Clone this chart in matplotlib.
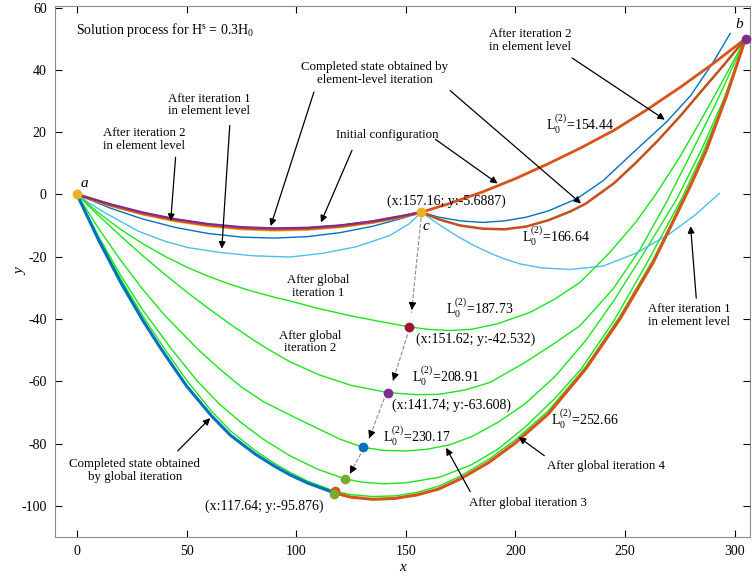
import numpy as np
import matplotlib
matplotlib.use('Agg')
import matplotlib.pyplot as plt

plt.rcParams['font.family'] = ['Liberation Serif', 'DejaVu Serif']
plt.rcParams['mathtext.fontset'] = 'custom'
plt.rcParams['mathtext.rm'] = 'Liberation Serif'
plt.rcParams['mathtext.it'] = 'Liberation Serif:italic'
plt.rcParams['axes.unicode_minus'] = False

# ---- element-level iteration, segment a-c ----
left_x = [0, 15, 30, 45, 60, 75, 90, 105, 120, 135, 150, 157.16]
init_left_y = [0, -3.34, -6.09, -8.25, -9.82, -10.80, -11.19, -10.98, -10.19, -8.81, -6.84, -5.69]
iter3_left_y = [0, -3.5, -6.3, -8.5, -10.05, -11.05, -11.45, -11.2, -10.4, -9.0, -6.95, -5.69]
elem_done_left_y = [0, -3.1, -5.8, -7.95, -9.5, -10.5, -10.9, -10.7, -9.95, -8.6, -6.7, -5.69]
iter2_left_y = [0, -4.34, -7.89, -10.62, -12.56, -13.70, -14.03, -13.56, -12.28, -10.22, -7.34, -5.69]
iter1_left_x = [0, 5, 12.8, 28, 40, 50.8, 66, 80, 97.1, 112.3, 127.5, 142.7, 151.8, 157.16]
iter1_left_y = [0, -2.5, -5.9, -11.8, -15.0, -17.1, -18.7, -19.7, -20.1, -18.9, -16.8, -13.2, -9.3, -5.69]

# ---- element-level iteration, segment c-b ----
init_right_x = [157.16, 170, 185, 200, 215, 230, 245, 260, 275, 290, 305]
init_right_y = [-5.69, -2.92, 0.8, 5.06, 9.86, 15.0, 20.6, 27.2, 34.3, 41.9, 50]
iter2_right_x = [157.16, 165, 175, 185, 195, 205, 215, 228, 240, 252, 260, 269, 280, 290, 298]
iter2_right_y = [-5.69, -7.3, -8.5, -9.0, -8.5, -7.3, -5.3, -1.4, 4.4, 12.3, 17.5, 23.3, 31.8, 42.2, 51.7]
elem_done_right_x = [157.16, 165, 175, 185, 195, 205, 215, 225, 232, 245, 255, 265, 275, 285, 295, 305]
elem_done_right_y = [-5.69, -8.0, -10.0, -11.0, -11.2, -10.3, -8.3, -5.5, -3.0, 3.6, 10.2, 17.3, 25.0, 33.3, 41.5, 50]
iter1_right_x = [157.16, 165, 173, 180, 188, 195, 202, 212, 225, 240, 255, 270, 282, 293]
iter1_right_y = [-5.69, -9.6, -13.2, -16.0, -18.7, -20.7, -22.3, -23.6, -24.1, -23.0, -18.9, -12.8, -6.6, 0.3]

# ---- global iterations a-b ----
g1_x = [0, 10, 20, 30, 40, 50, 60, 70, 80, 90, 97.1, 110, 125, 138.2, 151.62, 160, 170, 180, 192,
        206.6, 218, 229.4, 243, 255, 264, 275, 285, 295, 305]
g1_y = [0, -6.0, -11.25, -15.8, -19.8, -23.3, -26.3, -28.9, -31.1, -33.0, -34.2, -36.6, -39.0, -40.8,
        -42.53, -43.3, -43.7, -43.3, -41.5, -37.9, -33.6, -28.3, -18.7, -8.8, 0, 12, 24.3, 37, 50]
g2_x = [0, 10, 20, 30, 40, 50, 60, 70, 80, 87.2, 97.1, 110, 125, 141.74, 155, 165, 177, 188.3, 204.3,
        217, 229.4, 244.5, 257, 268.9, 280, 292, 305]
g2_y = [0, -6.85, -13.4, -19.66, -25.6, -31.3, -36.6, -41.7, -46.5, -49.7, -53.7, -57.8, -61.3, -63.61,
        -64.3, -64.2, -62.8, -60.4, -54.0, -48.2, -42.2, -30.4, -17.5, -2.5, 13.0, 30.0, 50]
g3_x = [0, 10, 20, 30, 40, 55.3, 65, 75, 85, 97.1, 110, 120, 130.6, 140, 150, 160, 170, 180, 192,
        204.3, 218, 232, 245, 258, 273.5, 285, 295, 305]
g3_y = [0, -11.05, -21.2, -30.45, -38.8, -49.8, -56, -61.8, -66.5, -70.8, -75.2, -78.6, -81.2, -82.2,
        -82.4, -81.8, -80.4, -77.8, -73.2, -67.3, -58.5, -47, -34, -19.5, -1.6, 14.5, 30.5, 50]
g4_x = [0, 10, 20, 30, 43.2, 55, 65, 75, 85, 97.1, 110, 122.2, 130, 139.7, 150, 165.5, 180, 192, 204.3,
        218, 230.1, 245, 260, 275.7, 285, 295, 305]
g4_y = [0, -13.65, -26.0, -37.1, -49.7, -60, -67.3, -73.3, -78.6, -83.9, -88.3, -91.3, -92.4, -92.9,
        -92.6, -90.8, -86.8, -81.8, -74.8, -65.5, -56, -40.5, -22, -1.6, 12.5, 29.5, 50]
g5_x = [0, 10, 20, 30, 40, 50, 61.4, 70, 81.2, 90, 97.1, 105, 117.6, 125, 135, 145, 155, 165, 175, 188,
        200, 215, 232, 247.6, 262.8, 273.5, 280, 287, 296, 305]
g5_y = [0, -14.2, -27.2, -39.0, -49.6, -59.6, -69.6, -75.9, -82.2, -86.3, -89.2, -92.0, -95.3, -96.4,
        -97.0, -96.8, -95.7, -93.7, -90.4, -85.0, -78.8, -69.5, -55.4, -39.2, -21.0, -5.8, 3.6, 14.6, 31.5, 50]

# completed state by global iteration
fin_left_x = [0, 10, 20, 30, 38.6, 50, 61.4, 70, 81.2, 90, 97.1, 105, 117.64]
fin_left_y = [0, -14.8, -28.3, -40.4, -49.8, -61.5, -71.1, -77.3, -83.3, -87.2, -90.0, -92.6, -95.876]
fin_right_x = [117.64, 125, 135, 145, 155, 165, 175, 188, 200, 215, 232, 247.6, 262.8, 273.5, 280, 287, 296, 305]
fin_right_y = [-95.876, -97.2, -97.9, -97.6, -96.5, -94.6, -91.3, -86.0, -79.8, -70.5, -56.1, -40.1,
               -21.9, -6.5, 3.0, 14.0, 31.0, 50]

# marked points (x, y, colour)
pt_a = (0, 0)
pt_b = (305, 50)
pt_c = (157.16, -5.6887)
iter_pts_x = [151.62, 141.74, 130.6, 122.2, 117.64, 117.3]
iter_pts_y = [-42.532, -63.608, -81.2, -91.3, -95.3, -96.3]
iter_pts_c = ['#A2142F', '#7E2F8E', '#0072BD', '#77AC30', '#D95319', '#77AC30']

L0_labels = ['154.44', '166.64', '187.73', '208.91', '230.17', '252.66']

GREEN = '#19E619'
ORANGE = '#D95319'
BROWN = '#C2501C'
BLUE = '#0072BD'
LBLUE = '#4DBEEE'

fig = plt.figure(figsize=(7.52, 5.81), dpi=100)
ax = fig.add_axes([0.0731, 0.0757, 0.9242, 0.914])

# global iteration curves
for gx, gy in [(g1_x, g1_y), (g2_x, g2_y), (g3_x, g3_y), (g4_x, g4_y), (g5_x, g5_y)]:
    ax.plot(gx, gy, color=GREEN, lw=1.0, zorder=2)
ax.plot(fin_left_x, fin_left_y, color=BLUE, lw=2.2, zorder=3)
ax.plot(fin_right_x, fin_right_y, color=ORANGE, lw=2.2, zorder=3)

# element-level curves
ax.plot(iter1_left_x, iter1_left_y, color=LBLUE, lw=1.0, zorder=2)
ax.plot(iter1_right_x, iter1_right_y, color=LBLUE, lw=1.0, zorder=2)
ax.plot(left_x, iter2_left_y, color=BLUE, lw=1.0, zorder=2)
ax.plot(iter2_right_x, iter2_right_y, color=BLUE, lw=1.0, zorder=2)
ax.plot(left_x, iter3_left_y, color='#EDB120', lw=2.2, zorder=3)
ax.plot(left_x, init_left_y, color=ORANGE, lw=2.2, zorder=3)
ax.plot(left_x, elem_done_left_y, color='#7E2F8E', lw=1.6, zorder=3)
ax.plot(init_right_x, init_right_y, color=ORANGE, lw=2.0, zorder=3)
ax.plot(elem_done_right_x, elem_done_right_y, color=BROWN, lw=1.8, zorder=3)

# markers
ax.plot(*pt_a, 'o', color='#EDB120', ms=6, zorder=5)
ax.plot(*pt_c, 'o', color='#EDB120', ms=6, zorder=5)
ax.plot(*pt_b, 'o', color='#7E2F8E', ms=6, zorder=5, clip_on=False)
for px, py, pc in zip(iter_pts_x, iter_pts_y, iter_pts_c):
    ax.plot(px, py, 'o', color=pc, ms=6, zorder=5)

# dashed arrows between successive points
dash_paths = [((157.0, -7.5), (152.6, -38.0)),
              ((150.8, -45.0), (144.2, -59.8)),
              ((140.2, -65.5), (133.3, -78.3)),
              ((129.5, -83.2), (124.5, -89.7))]
for (x0, y0), (x1, y1) in dash_paths:
    ax.plot([x0, x1], [y0, y1], ls='--', color='0.55', lw=0.8, zorder=4)
    ax.annotate('', xy=(x1, y1), xytext=(x1 + 0.08 * (x0 - x1), y1 + 0.08 * (y0 - y1)),
                arrowprops=dict(arrowstyle='-|>', color='k', lw=0.8, mutation_scale=11), zorder=6)

# annotations with arrows
ann_fs = 9.3
arrow_kw = dict(arrowstyle='-|>', color='k', lw=0.9, mutation_scale=10)
notes = [
    ('After iteration 2\nin element level', (30.8, 17.6), [((45.1, 12.8), (42.7, -9.4))]),
    ('After iteration 1\nin element level', (60.4, 28.7), [((69.8, 23.0), (66.0, -18.3))]),
    ('Completed state obtained by\nelement-level iteration', (135.7, 38.8),
     [((108.5, 33.7), (88.0, -11.0)), ((169.3, 33.9), (230.9, -3.5))]),
    ('Initial configuration', (141.7, 19.2),
     [((126.0, 15.0), (110.8, -9.8)), ((162.5, 18.2), (192.9, 3.0))]),
    ('After iteration 2\nin element level', (206.6, 49.3), [((224.8, 44.3), (269.2, 23.5))]),
    ('After iteration 1\nin element level', (279.3, -38.8), [((282.6, -34.2), (279.8, -9.3))]),
    ('After global\niteration 1', (110.0, -29.6), []),
    ('After global\niteration 2', (106.5, -47.4), []),
    ('Completed state obtained\nby global iteration', (26.4, -88.5), [((45.1, -83.0), (61.7, -71.2))]),
    ('After global iteration 3', (205.8, -99.0), [((180.0, -96.2), (167.8, -80.6))]),
    ('After global iteration 4', (241.2, -87.1), [((214.2, -84.4), (200.5, -77.4))]),
]
for txt, (tx, ty), arrows in notes:
    ax.text(tx, ty, txt, ha='center', va='center', fontsize=ann_fs, linespacing=1.1, zorder=7)
    for start, tip in arrows:
        ax.annotate('', xy=tip, xytext=start, arrowprops=arrow_kw, zorder=6)

# value labels
lab_fs = 10
ax.text(-0.6, 52.7, r'Solution process for H$^{\rm s}$ = 0.3H$_{\rm 0}$', ha='left', va='center', fontsize=lab_fs)
ax.text(3.6, 3.5, 'a', style='italic', fontsize=11, ha='center', va='center')
ax.text(301.9, 54.5, 'b', style='italic', fontsize=11, ha='center', va='center')
ax.text(159.4, -10.4, 'c', style='italic', fontsize=11, ha='center', va='center')
ax.text(168.7, -2.2, '(x:157.16; y:-5.6887)', fontsize=lab_fs, ha='center', va='center')
ax.text(181.9, -46.5, '(x:151.62; y:-42.532)', fontsize=lab_fs, ha='center', va='center')
ax.text(170.9, -67.6, '(x:141.74; y:-63.608)', fontsize=lab_fs, ha='center', va='center')
ax.text(85.5, -100.0, '(x:117.64; y:-95.876)', fontsize=lab_fs, ha='center', va='center')
L0_pos = [(229.6, 22.6), (218.4, -13.6), (183.8, -36.7), (168.3, -58.5), (155.0, -77.7), (231.9, -72.3)]
for val, (lx, ly) in zip(L0_labels, L0_pos):
    ax.text(lx, ly, r'L$_{\rm 0}^{\rm (2)}$=' + val, fontsize=lab_fs, ha='center', va='center')

ax.set_xlim(-10, 307)
ax.set_ylim(-110, 60.5)
ax.set_xticks(np.arange(0, 301, 50))
ax.set_yticks(np.arange(-100, 61, 20))
ax.tick_params(direction='in', top=True, right=True, length=5, width=0.8, labelsize=10, pad=6)
for s in ax.spines.values():
    s.set_color('0.55')
    s.set_linewidth(0.8)
ax.set_xlabel('x', style='italic', fontsize=11, labelpad=2)
ax.set_ylabel('y', style='italic', fontsize=11)
ax.yaxis.set_label_coords(-0.040, 0.5)

fig.savefig('out.png', dpi=100)
